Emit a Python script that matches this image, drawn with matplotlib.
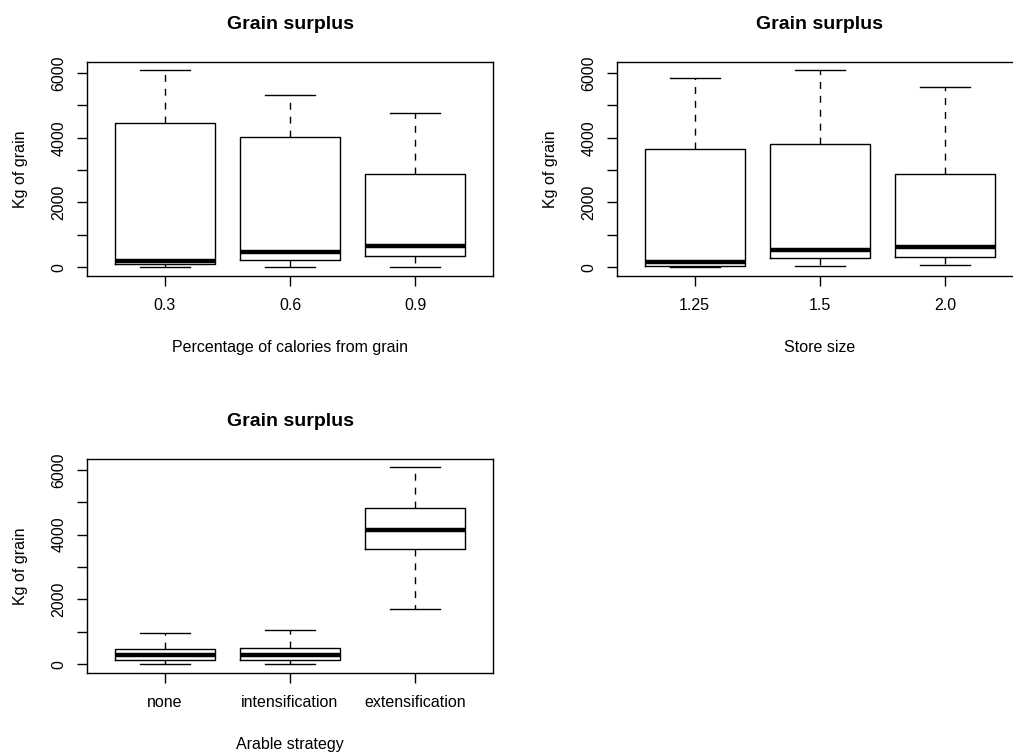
import matplotlib
matplotlib.use('Agg')
import matplotlib.pyplot as plt

plt.rcParams['font.family'] = ['Liberation Sans', 'DejaVu Sans']

# --- data (kg of grain) ---
calorie_labels = ['0.3', '0.6', '0.9']
calorie_low = [0, 0, 0]
calorie_q1 = [100, 230, 340]
calorie_med = [175, 465, 660]
calorie_q3 = [4470, 4015, 2875]
calorie_high = [6100, 5330, 4780]

store_labels = ['1.25', '1.5', '2.0']
store_low = [0, 30, 72]
store_q1 = [40, 270, 310]
store_med = [145, 517, 620]
store_q3 = [3650, 3807, 2875]
store_high = [5835, 6100, 5565]

strategy_labels = ['none', 'intensification', 'extensification']
strategy_low = [0, 0, 1708]
strategy_q1 = [123, 123, 3570]
strategy_med = [278, 278, 4157]
strategy_q3 = [473, 504, 4816]
strategy_high = [967, 1060, 6092]

W, H = 1013, 754


def px_axes(fig, left, top, right, bottom):
    return fig.add_axes([left / W, 1 - bottom / H, (right - left) / W, (bottom - top) / H])


def rbox(ax, labels, low, q1, med, q3, high, xlabel):
    stats = []
    for i in range(len(labels)):
        stats.append(dict(whislo=low[i], q1=q1[i], med=med[i], q3=q3[i],
                          whishi=high[i], fliers=[], label=labels[i]))
    ax.bxp(stats, widths=0.8, capwidths=0.4, showfliers=False,
           boxprops=dict(color='black', linewidth=1.0),
           whiskerprops=dict(color='black', linewidth=1.0, linestyle=(0, (5, 5))),
           capprops=dict(color='black', linewidth=1.0),
           medianprops=dict(color='black', linewidth=3.2, solid_capstyle='butt'))
    lo, hi = min(low), max(high)
    r = hi - lo
    ax.set_ylim(lo - 0.045 * r, hi + 0.04 * r)
    ax.set_xlim(0.38, 3.62)
    yt = [0, 1000, 2000, 3000, 4000, 5000, 6000]
    ax.set_yticks(yt)
    ax.set_yticklabels([str(v) if v % 2000 == 0 else '' for v in yt],
                       rotation=90, va='center')
    ax.tick_params(direction='out', length=7, width=1.0, labelsize=11.5, pad=8)
    ax.tick_params(axis='x', pad=9)
    for s in ax.spines.values():
        s.set_linewidth(1.0)
    ax.set_title('Grain surplus', fontsize=14, fontweight='bold', pad=24)
    ax.set_xlabel(xlabel, fontsize=11.5, labelpad=19)
    ax.set_ylabel('Kg of grain', fontsize=11.5, labelpad=17)


fig = plt.figure(figsize=(W / 100, H / 100), dpi=100)

ax1 = px_axes(fig, 87, 62, 493, 276)
rbox(ax1, calorie_labels, calorie_low, calorie_q1, calorie_med, calorie_q3,
     calorie_high, 'Percentage of calories from grain')

ax2 = px_axes(fig, 617, 62, 1023, 276)
rbox(ax2, store_labels, store_low, store_q1, store_med, store_q3,
     store_high, 'Store size')

ax3 = px_axes(fig, 87, 459, 493, 673)
rbox(ax3, strategy_labels, strategy_low, strategy_q1, strategy_med, strategy_q3,
     strategy_high, 'Arable strategy')

fig.savefig('out.png', dpi=100)
